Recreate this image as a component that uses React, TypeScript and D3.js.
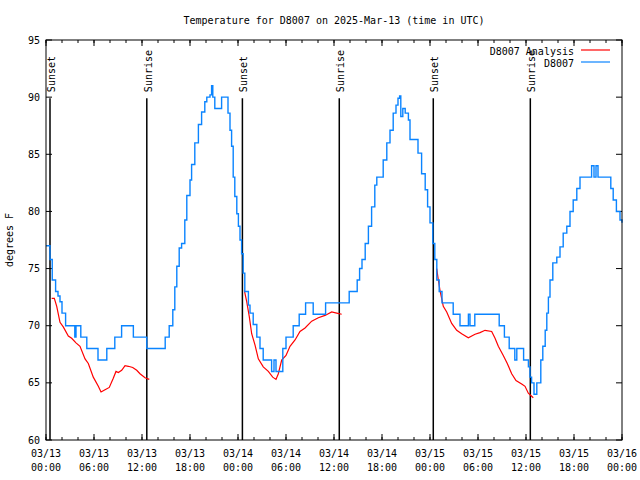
import React from "react";
import * as d3 from "d3";

// Observed temperature (D8007): hours since 2025-03-13 00:00 UTC, degrees F
const obsHours = [
  0, 0.25, 0.5, 0.78, 1.2, 1.5, 1.75, 2.0, 2.45, 3.6, 3.75, 4.35, 5.1, 6.5, 7.6, 8.6, 9.45, 10.92, 12.6,
  14.9, 15.4, 15.85, 16.1, 16.35, 16.65, 16.95, 17.35, 17.6, 18.0, 18.2, 18.6, 19.05, 19.45, 19.85, 20.1,
  20.5, 20.7, 20.85, 21.1, 21.95, 22.75, 23.0, 23.2, 23.4, 23.6, 23.85, 24.05, 24.25, 24.45, 24.65, 24.85,
  25.3, 25.5, 25.9, 26.35, 26.75, 27.15, 28.2, 28.5, 28.75, 29.6, 30.0, 30.9, 31.65, 32.45, 33.4, 34.95,
  37.9, 38.9, 39.2, 39.5, 39.9, 40.3, 40.7, 41.1, 41.35, 42.15, 42.6, 43.0, 43.4, 43.75, 44.0, 44.2, 44.35,
  44.6, 44.9, 45.3, 45.5, 46.5, 46.95, 47.4, 47.7, 48.0, 48.35, 48.6, 48.85, 49.15, 49.5, 50.9, 51.75,
  52.8, 53.0, 53.6, 56.65, 57.3, 57.9, 58.6, 58.85, 59.7, 60.3, 60.5, 60.7, 61.0, 61.35, 61.85, 62.1,
  62.4, 62.6, 62.8, 63.0, 63.35, 63.85, 64.25, 64.65, 65.1, 65.5, 65.9, 66.35, 66.75, 68.2, 68.5, 68.75,
  69.0, 70.6, 70.9, 71.3, 71.75, 72.0,
];
const obsTemps = [
  77.0, 77.0, 75.8, 74.0, 73.0, 72.6, 72.1, 71.1, 70.0, 69.0, 70.0, 69.0, 68.0, 67.0, 68.0, 69.0, 70.0, 69.0, 68.0,
  69.0, 70.0, 71.4, 73.4, 75.2, 76.8, 77.2, 79.25, 81.4, 82.75, 84.1, 86.0, 87.6, 88.7, 89.6, 90.0,
  90.2, 91.0, 90.0, 89.0, 90.0, 88.6, 87.1, 85.7, 83.0, 81.3, 79.8, 78.7, 77.5, 76.3, 74.6, 73.0,
  71.8, 71.1, 70.1, 69.0, 68.0, 67.0, 66.0, 67.0, 66.0, 68.0, 69.0, 70.0, 71.0, 72.0, 71.0, 72.0,
  73.0, 74.0, 75.0, 75.8, 77.2, 78.7, 80.4, 82.3, 83.0, 84.5, 86.0, 87.1, 88.6, 89.3, 89.9, 90.1, 88.3,
  89.0, 88.6, 88.0, 86.3, 85.1, 83.3, 81.9, 80.4, 79.0, 77.2, 75.8, 74.0, 73.0, 72.0, 71.0, 70.0,
  71.0, 70.0, 71.0, 70.0, 69.0, 68.0, 67.0, 68.0, 67.0, 66.4, 65.5, 65.0, 64.0, 65.0, 67.0, 68.2,
  69.6, 71.1, 72.5, 74.0, 75.5, 76.0, 76.9, 78.1, 78.7, 80.0, 81.0, 82.0, 83.0, 84.0, 83.0, 84.0,
  83.0, 82.0, 81.0, 80.0, 79.25, 79.0,
];

// Analysis (D8007 Analysis): three night segments, null marks a gap
const anaHours = [
  0.71, 1.04, 1.34, 1.75, 2.16, 2.79, 3.21, 3.75, 4.25, 4.88, 5.29, 5.91, 6.54, 6.88, 7.38, 7.91, 8.41,
  8.75, 9.04, 9.46, 9.88, 10.29, 10.84, 11.34, 11.75, 12.38, 12.91,
  null,
  24.79, 25.09, 25.41, 25.71, 26.13, 26.54, 27.16, 27.79, 28.34, 28.75, 29.04, 29.46, 30.0, 30.5, 31.13,
  31.75, 32.38, 33.21, 34.04, 34.88, 35.71, 36.34, 36.96,
  null,
  48.84, 49.04, 49.25, 49.66, 50.09, 50.71, 51.34, 51.96, 52.79, 53.63, 54.25, 54.88, 55.71, 56.13, 56.54,
  57.16, 57.66, 58.21, 58.75, 59.46, 59.88, 60.29, 60.91,
];
const anaTemps = [
  72.4, 72.4, 71.7, 70.3, 69.9, 69.1, 68.9, 68.5, 68.2, 67.1, 66.7, 65.5, 64.7, 64.2, 64.4, 64.6, 65.4,
  66.0, 65.9, 66.1, 66.5, 66.45, 66.35, 66.1, 65.8, 65.45, 65.3,
  null,
  73.1, 72.1, 70.8, 69.3, 68.3, 67.1, 66.4, 66.0, 65.5, 65.3, 65.8, 67.0, 67.4, 68.2, 68.75,
  69.5, 69.8, 70.4, 70.7, 70.9, 71.2, 71.1, 71.0,
  null,
  75.0, 74.0, 73.1, 71.7, 71.2, 70.2, 69.6, 69.3, 68.95, 69.25, 69.4, 69.6, 69.5, 68.9, 68.2,
  67.4, 66.7, 65.8, 65.2, 64.9, 64.7, 64.1, 63.7,
];

const eventHours = [0.5, 12.6, 24.55, 36.66, 48.41, 60.54];
const eventLabels = ["Sunset", "Sunrise", "Sunset", "Sunrise", "Sunset", "Sunrise"];

const yTickValues = [60, 65, 70, 75, 80, 85, 90, 95];
const seriesNames = ["D8007 Analysis", "D8007"];
const seriesColors = ["#ff0000", "#0a84ff"];

const titleText = "Temperature for D8007 on 2025-Mar-13 (time in UTC)";
const yLabel = "degrees F";

const START = Date.UTC(2025, 2, 13);
const toDate = (h: number) => new Date(START + h * 3600e3);

export default function App() {
  const W = 640, H = 480;
  const L = 46, R = 622, T = 40, B = 440;
  const x = d3.scaleUtc().domain([toDate(0), toDate(72)]).range([L, R]);
  const y = d3.scaleLinear().domain([60, 95]).range([B, T]);

  const majorTicks = x.ticks(d3.utcHour.every(6) as any);
  const minorTicks = x.ticks(d3.utcHour.every(2) as any);
  const fmtDate = d3.utcFormat("%m/%d");
  const fmtTime = d3.utcFormat("%H:%M");

  const obsData = obsHours.map((h, i) => [h, obsTemps[i]] as [number, number]);
  const anaData = anaHours.map((h, i) => [h, anaTemps[i]] as [number | null, number | null]);

  const obsLine = d3
    .line<[number, number]>()
    .x((d) => x(toDate(d[0])))
    .y((d) => y(d[1]))
    .curve(d3.curveStepAfter);
  const anaLine = d3
    .line<[number | null, number | null]>()
    .defined((d) => d[0] !== null && d[1] !== null)
    .x((d) => x(toDate(d[0] as number)))
    .y((d) => y(d[1] as number));

  const font = "'DejaVu Sans Mono', monospace";

  return (
    <svg
      width={W}
      height={H}
      style={{ position: "absolute", left: 0, top: 0, background: "#fff" }}
      fontFamily={font}
      fontSize={10}
    >
      <rect x={0} y={0} width={W} height={H} fill="#fff" />
      <text x={(L + R) / 2} y={24} textAnchor="middle" fill="#000">
        {titleText}
      </text>

      {/* minor x ticks */}
      {minorTicks.map((t, i) => (
        <g key={"mn" + i}>
          <line x1={x(t)} x2={x(t)} y1={B} y2={B - 3} stroke="#000" />
          <line x1={x(t)} x2={x(t)} y1={T} y2={T + 3} stroke="#000" />
        </g>
      ))}
      {/* major x ticks */}
      {majorTicks.map((t, i) => (
        <g key={"mj" + i}>
          <line x1={x(t)} x2={x(t)} y1={B} y2={B - 6} stroke="#000" />
          <line x1={x(t)} x2={x(t)} y1={T} y2={T + 6} stroke="#000" />
          <text x={x(t)} y={B + 17} textAnchor="middle" fill="#000">
            {fmtDate(t)}
          </text>
          <text x={x(t)} y={B + 31} textAnchor="middle" fill="#000">
            {fmtTime(t)}
          </text>
        </g>
      ))}
      {/* y ticks */}
      {yTickValues.map((v) => (
        <g key={"y" + v}>
          <line x1={L} x2={L + 6} y1={y(v)} y2={y(v)} stroke="#000" />
          <line x1={R} x2={R - 6} y1={y(v)} y2={y(v)} stroke="#000" />
          <text x={L - 6} y={y(v)} dy="0.35em" textAnchor="end" fill="#000">
            {v}
          </text>
        </g>
      ))}
      <text
        transform={`translate(13,${(T + B) / 2}) rotate(-90)`}
        textAnchor="middle"
        fill="#000"
      >
        {yLabel}
      </text>

      {/* sunrise / sunset markers */}
      {eventHours.map((h, i) => {
        const ex = x(toDate(h));
        return (
          <g key={"ev" + i}>
            <line x1={ex} x2={ex} y1={y(90) + 1} y2={B} stroke="#000" strokeWidth={1.5} />
            <text
              transform={`translate(${ex + 5},${y(90) - 5}) rotate(-90)`}
              textAnchor="start"
              fill="#000"
            >
              {eventLabels[i]}
            </text>
          </g>
        );
      })}

      {/* series */}
      <path d={anaLine(anaData) || ""} fill="none" stroke={seriesColors[0]} strokeWidth={1.2} />
      <path d={obsLine(obsData) || ""} fill="none" stroke={seriesColors[1]} strokeWidth={1.4} />

      {/* legend */}
      {seriesNames.map((n, i) => (
        <g key={"lg" + i}>
          <text x={574} y={55 + i * 12} textAnchor="end" fill="#000">
            {n}
          </text>
          <line x1={581} x2={610} y1={50 + i * 12} y2={50 + i * 12} stroke={seriesColors[i]} strokeWidth={1.2} />
        </g>
      ))}

      {/* frame */}
      <rect x={L} y={T} width={R - L} height={B - T} fill="none" stroke="#000" strokeWidth={1} />
    </svg>
  );
}
